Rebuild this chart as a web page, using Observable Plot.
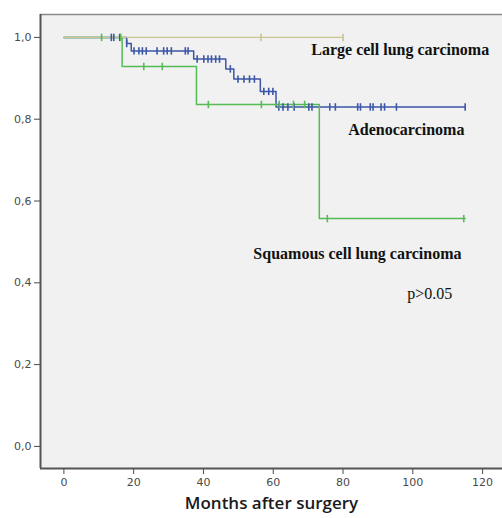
<!DOCTYPE html>
<html>
<head>
<meta charset="utf-8">
<script src="https://cdn.jsdelivr.net/npm/d3@7"></script>
<script src="https://cdn.jsdelivr.net/npm/@observablehq/plot@0.6"></script>
<style>
  html, body { margin: 0; padding: 0; background: #ffffff; }
  #chart svg { display: block; }
</style>
</head>
<body>
<div id="chart"></div>
<script>
// ---- Data ----
// Adenocarcinoma: step times (months) and survival after each step
const adenoTimes = [0, 18.0, 19.3, 37.2, 46.4, 48.7, 56.3, 60.8, 115];
const adenoSurv  = [1.0, 0.985, 0.967, 0.947, 0.923, 0.898, 0.868, 0.830, 0.830];
const adenoCensor = [13.6, 14.3, 16.0, 18.0,
  20.1, 21.5, 22.5, 23.6, 26.7, 28.6, 29.6, 30.8, 34.8, 35.6,
  38.2, 40.1, 41.3, 42.3, 43.5, 44.6,
  47.7,
  49.9, 51.6, 53.2, 54.6,
  57.3, 58.7, 59.9,
  61.6, 62.8, 64.2, 66.0, 70.2, 71.1, 76.2, 77.8, 84.2, 85.0, 87.8, 88.6, 90.9, 91.9, 95.3, 115.0];

// Squamous cell lung carcinoma
const squamTimes = [0, 16.7, 38.0, 73.2, 115];
const squamSurv  = [1.0, 0.929, 0.836, 0.557, 0.557];
const squamCensor = [10.8, 16.3, 22.9, 28.2, 41.4, 56.6, 61.7, 65.8, 69.0, 75.5, 114.6];

// Large cell lung carcinoma
const largeTimes = [0, 80];
const largeSurv  = [1.0, 1.0];
const largeCensor = [56.5, 80];

const xTicks = [0, 20, 40, 60, 80, 100, 120];
const yTicks = [0, 0.2, 0.4, 0.6, 0.8, 1.0];
const xLabel = "Months after surgery";
const labels = ["Large cell lung carcinoma", "Adenocarcinoma", "Squamous cell lung carcinoma", "p>0.05"];

// ---- Build tables ----
const steps = (times, surv) => times.map((t, i) => ({t, s: surv[i]}));
const survAt = (times, surv, t) => {
  let s = surv[0];
  for (let i = 0; i < times.length; i++) if (times[i] <= t) s = surv[i];
  return s;
};
const censors = (list, times, surv) => list.map(t => ({t, s: survAt(times, surv, t)}));

const adeno = steps(adenoTimes, adenoSurv);
const squam = steps(squamTimes, squamSurv);
const large = steps(largeTimes, largeSurv);
const adenoC = censors(adenoCensor, adenoTimes, adenoSurv);
const squamC = censors(squamCensor, squamTimes, squamSurv);
const largeC = censors(largeCensor, largeTimes, largeSurv);

const BLUE = "#3d56a8", GREEN = "#55bb55", TAN = "#cbc592", AXIS = "#555555";

// vertical tick symbol for censor marks
const vtick = { draw(context, size) { const h = Math.sqrt(size) / 2; context.moveTo(0, -h); context.lineTo(0, h); } };

const xDomain = [-6.7, 125.7];
const yDomain = [-0.054, 1.056];
const comma = d => d3.format(".1f")(d).replace(".", ",");

const censorMark = (data, color) => Plot.dot(data, {
  x: "t", y: "s", symbol: vtick, r: 4.2, fill: "none", stroke: color, strokeWidth: 1.6
});

const chart = Plot.plot({
  width: 502,
  height: 518,
  marginLeft: 40,
  marginRight: 0,
  marginTop: 14,
  marginBottom: 50,
  style: { fontFamily: "DejaVu Sans", fontSize: "11px", color: "#4a4a4a", background: "#ffffff", overflow: "visible" },
  x: { domain: xDomain, ticks: xTicks, tickSize: 6, tickPadding: 4, label: null, tickFormat: d => d },
  y: { domain: yDomain, ticks: yTicks, tickSize: 6, tickPadding: 3, label: null, tickFormat: comma },
  marks: [
    Plot.frame({ fill: "#f0f1f0", stroke: null }),
    Plot.ruleY([yDomain[1]], { stroke: "#8a8a8a", strokeWidth: 1.6 }),
    Plot.line(adeno, { x: "t", y: "s", curve: "step-after", stroke: BLUE, strokeWidth: 1.5 }),
    Plot.line(squam, { x: "t", y: "s", curve: "step-after", stroke: GREEN, strokeWidth: 1.5 }),
    Plot.line(large, { x: "t", y: "s", curve: "step-after", stroke: TAN, strokeWidth: 1.4 }),
    censorMark(adenoC, BLUE),
    censorMark(squamC, GREEN),
    censorMark(largeC, TAN),
    Plot.ruleX([xDomain[0]], { stroke: AXIS, strokeWidth: 2 }),
    Plot.ruleY([yDomain[0]], { stroke: AXIS, strokeWidth: 2 }),
    Plot.text([labels[0]], { x: 70.9, y: 0.9685, text: d => d, textAnchor: "start", fontFamily: "Liberation Serif", fontWeight: "bold", fontSize: 16, fill: "#111" }),
    Plot.text([labels[1]], { x: 81.5, y: 0.773, text: d => d, textAnchor: "start", fontFamily: "Liberation Serif", fontWeight: "bold", fontSize: 16, fill: "#111" }),
    Plot.text([labels[2]], { x: 54.3, y: 0.4714, text: d => d, textAnchor: "start", fontFamily: "Liberation Serif", fontWeight: "bold", fontSize: 16, fill: "#111" }),
    Plot.text([labels[3]], { x: 98.4, y: 0.3736, text: d => d, textAnchor: "start", fontFamily: "Liberation Serif", fontSize: 16, fill: "#111" }),
    Plot.text([xLabel], { frameAnchor: "bottom", dy: 40, text: d => d, fontFamily: "Open Sans", fontWeight: 600, fontSize: 17, fill: "#1a1a1a" })
  ]
});

document.getElementById("chart").appendChild(chart);
</script>
</body>
</html>
